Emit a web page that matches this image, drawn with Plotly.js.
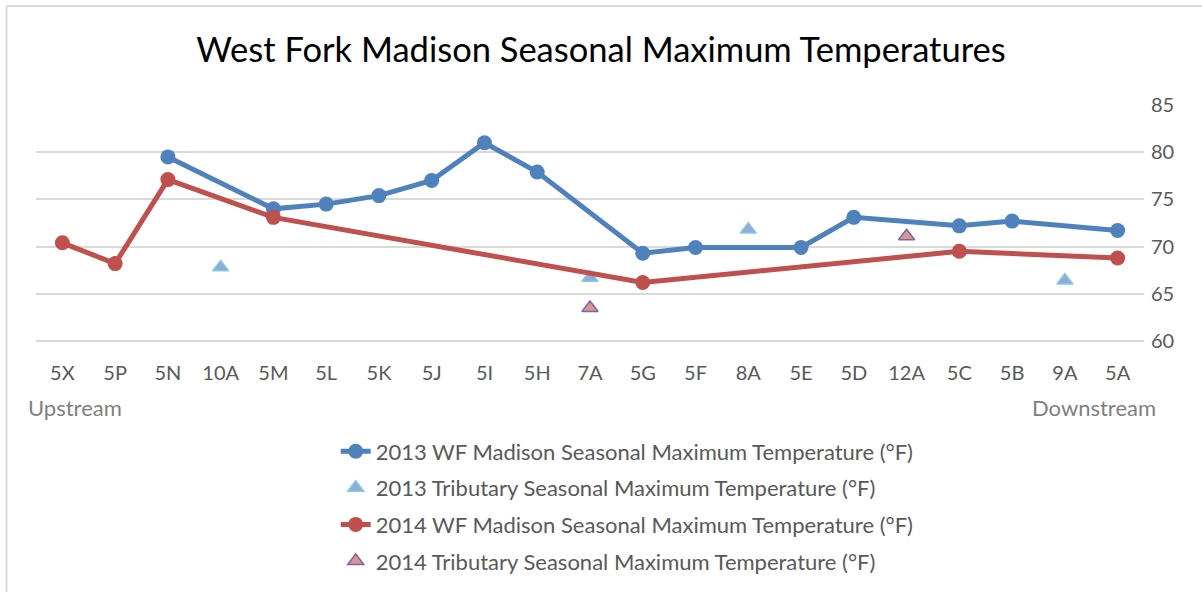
<!DOCTYPE html>
<html>
<head>
<meta charset="utf-8">
<script src="https://cdn.plot.ly/plotly-3.0.1.min.js"></script>
<style>html,body{margin:0;padding:0;background:#fff;}#chart{width:1202px;height:592px;}</style>
</head>
<body>
<div id="chart"></div>
<script>
const categories = ["5X","5P","5N","10A","5M","5L","5K","5J","5I","5H","7A","5G","5F","8A","5E","5D","12A","5C","5B","9A","5A"];
const wf2013 = [null,null,79.5,null,74.0,74.5,75.4,77.0,81.0,77.9,null,69.3,69.9,null,69.9,73.1,null,72.2,72.7,null,71.7];
const trib2013 = [null,null,null,67.8,null,null,null,null,null,null,66.7,null,null,71.8,null,null,null,null,null,66.4,null];
const wf2014 = [70.4,68.2,77.1,null,73.1,null,null,null,null,null,null,66.2,null,null,null,null,null,69.5,null,null,68.8];
const trib2014 = [null,null,null,null,null,null,null,null,null,null,63.5,null,null,null,null,null,71.1,null,null,null,null];
const seriesNames = [
  "2013 WF Madison Seasonal Maximum Temperature (°F)",
  "2013 Tributary Seasonal Maximum Temperature (°F)",
  "2014 WF Madison Seasonal Maximum Temperature (°F)",
  "2014 Tributary Seasonal Maximum Temperature (°F)"
];
const yTicks = [60,65,70,75,80,85];

const font = "Lato, 'Open Sans', sans-serif";
const traces = [
  {x: categories, y: wf2013, name: seriesNames[0], legendgroup: "a", type: "scatter", mode: "lines+markers", connectgaps: true,
   line: {color: "#4F81BD", width: 5}, marker: {color: "#4F81BD", size: 15, symbol: "circle"}},
  {x: categories, y: trib2013, name: seriesNames[1], legendgroup: "b", type: "scatter", mode: "markers",
   marker: {color: "#93AAD6", size: 14, symbol: "triangle-up", line: {color: "#80CCE0", width: 1.5}}},
  {x: categories, y: wf2014, name: seriesNames[2], legendgroup: "c", type: "scatter", mode: "lines+markers", connectgaps: true,
   line: {color: "#C0504D", width: 5}, marker: {color: "#C0504D", size: 15, symbol: "circle"}},
  {x: categories, y: trib2014, name: seriesNames[3], legendgroup: "d", type: "scatter", mode: "markers",
   marker: {color: "#DA9694", size: 14, symbol: "triangle-up", line: {color: "#8064A2", width: 1.5}}}
];

const layout = {
  width: 1202, height: 592,
  margin: {l: 36, r: 58, t: 105, b: 251},
  paper_bgcolor: "#fff", plot_bgcolor: "#fff",
  font: {family: font, color: "#595959"},
  title: {text: "West Fork Madison Seasonal Maximum Temperatures", font: {family: font, size: 34.5, color: "#000"},
          x: 0.5, xanchor: "center", y: 0.915, yanchor: "middle"},
  showlegend: true,
  legend: {orientation: "v", x: 0.2705, xanchor: "left", yref: "container", y: 0.273, yanchor: "top",
           font: {family: font, size: 22, color: "#595959"}, tracegroupgap: 5,
           traceorder: "grouped"},
  xaxis: {type: "category", categoryorder: "array", categoryarray: categories, range: [-0.5, 20.5],
          showgrid: false, zeroline: false, showline: false, ticks: "", ticklabelstandoff: 18,
          tickfont: {family: font, size: 20, color: "#595959"}, fixedrange: true},
  yaxis: {side: "right", range: [60, 85], tickvals: yTicks, ticktext: yTicks.map(String),
          showgrid: true, gridcolor: "#D9D9D9", gridwidth: 2, zeroline: false, showline: false, ticks: "",
          ticklabelstandoff: 6,
          tickfont: {family: font, size: 20, color: "#595959"}, fixedrange: true},
  shapes: [
    {type: "line", xref: "paper", yref: "paper", x0: 0, x1: 1, y0: 0, y1: 0, line: {color: "#D9D9D9", width: 2}, layer: "below"},
    {type: "line", xref: "paper", yref: "paper", x0: -0.0266, x1: -0.0266, y0: 1.42, y1: -1.2, line: {color: "#D9D9D9", width: 2}},
    {type: "line", xref: "paper", yref: "paper", x0: -0.0266, x1: 1.2, y0: 1.42, y1: 1.42, line: {color: "#D9D9D9", width: 2}}
  ],
  annotations: [
    {text: "Upstream", xref: "paper", yref: "paper", x: -0.009, y: -0.28, xanchor: "left", yanchor: "middle",
     showarrow: false, font: {family: font, size: 22, color: "#7F7F7F"}},
    {text: "Downstream", xref: "paper", yref: "paper", x: 1.013, y: -0.28, xanchor: "right", yanchor: "middle",
     showarrow: false, font: {family: font, size: 22, color: "#7F7F7F"}}
  ]
};
Plotly.newPlot("chart", traces, layout, {displayModeBar: false, staticPlot: true});
</script>
</body>
</html>
